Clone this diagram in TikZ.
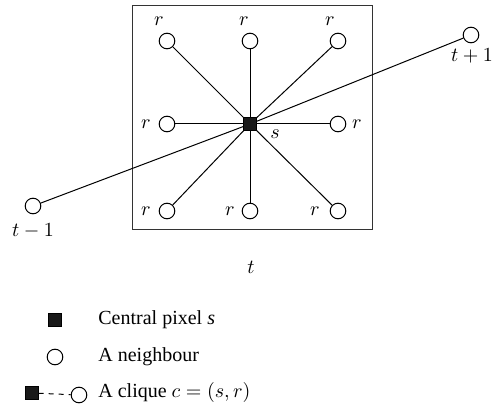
\documentclass[tikz,border=0pt]{standalone}
\usepackage{fontspec}
\setmainfont{Liberation Serif}
\usepackage{tikz}
\usetikzlibrary{positioning}

\begin{document}
\begin{tikzpicture}[
  x=0.5pt,y=-0.5pt,
  nbr/.style={draw,circle,line width=0.5pt,minimum size=7.8pt,inner sep=0pt,fill=white},
  ctr/.style={draw,fill=black!90,rectangle,minimum size=6.3pt,inner sep=0pt},
  lab/.style={inner sep=0pt,font=\normalsize},
  link/.style={line width=0.5pt,draw=black}
]
\useasboundingbox (0,0) rectangle (499,406);
\node[draw=black!80,line width=0.5pt,minimum width=120pt,minimum height=112pt,inner sep=0pt] (frame) at (252,118) {};

% neighbours around s
\node[nbr] (ul) at (167,41) {};
\node[nbr] (uc) at (250,41) {};
\node[nbr] (ur) at (338,41) {};
\node[nbr] (ml) at (167,124) {};
\node[nbr] (mr) at (338,124) {};
\node[nbr] (ll) at (167,211) {};
\node[nbr] (lc) at (250,211) {};
\node[nbr] (lr) at (338,211) {};
\node[nbr] (tm) at (33,206) {};
\node[nbr] (tp) at (471,35) {};

\draw[link] (tm) -- (250,124) -- (tp);
\foreach \n in {ul,uc,ur,ml,mr,ll,lc,lr}
  \draw[link] (250,124) -- (\n);
\node[ctr] (s) at (250,124) {};

% labels
\node[lab] (rul) at (159,21) {$r$};
\node[lab] (ruc) at (244,21) {$r$};
\node[lab] (rur) at (330,21) {$r$};
\node[lab] (rml) at (146,124) {$r$};
\node[lab] (rmr) at (357,124) {$r$};
\node[lab] (rll) at (146,211) {$r$};
\node[lab] (rlc) at (230,211) {$r$};
\node[lab] (rlr) at (315,211) {$r$};
\node[lab] (slab) at (275,134) {$s$};
\node[lab] (tmlab) at (33,231) {$t-1$};
\node[lab] (tplab) at (472,56) {$t+1$};
\node[lab] (tlab) at (251,267) {$t$};

% legend
\node[ctr] (kctr) at (55,320) {};
\node[lab,anchor=west] (kctrtxt) at (98,320) {Central pixel \textit{s}};
\node[nbr] (knbr) at (55,357) {};
\node[lab,anchor=west] (knbrtxt) at (98,357) {A neighbour};
\node[ctr] (kcs) at (32,393) {};
\node[nbr] (kcr) at (79,395) {};
\draw[link,dash pattern=on 2.5pt off 2.5pt] (kcs) -- (kcr);
\node[lab,anchor=west] (kcltxt) at (98,393) {A clique $c=(s,r)$};
\end{tikzpicture}
\end{document}
